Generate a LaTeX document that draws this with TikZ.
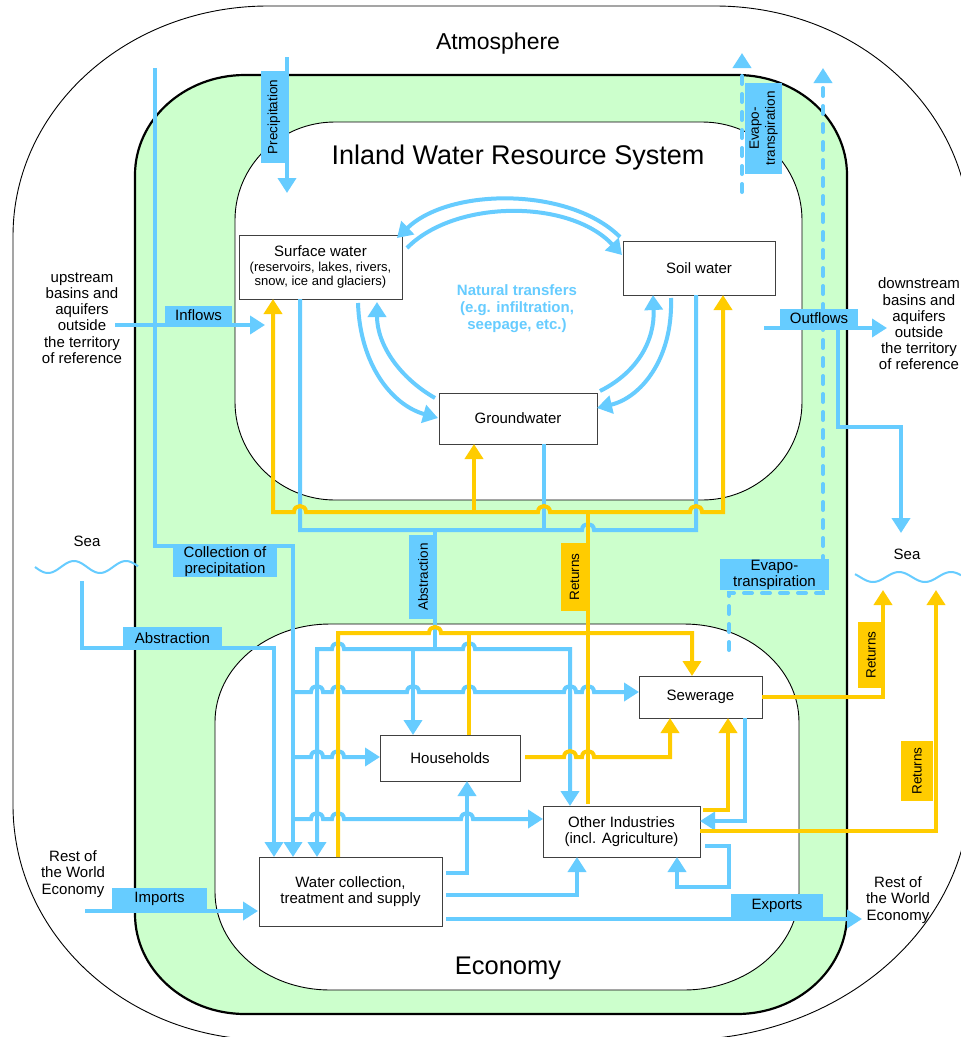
\documentclass[tikz,border=0pt]{standalone}
\usepackage{fontspec}
\setmainfont{Liberation Sans}
\usetikzlibrary{arrows.meta}
\definecolor{skyb}{HTML}{66CCFF}
\definecolor{gold}{HTML}{FFCC00}
\definecolor{mint}{HTML}{CCFFCC}
\newcommand\fs[2]{\fontsize{#1}{#2}\selectfont}
\tikzset{
  bl/.style={draw=skyb, line width=4pt},
  yl/.style={draw=gold, line width=4pt},
  arrE/.style={-{Triangle[width=18pt,length=15pt]}},
  arrB/.style={{Triangle[width=18pt,length=15pt]}-},
  arrBE/.style={{Triangle[width=18pt,length=15pt]}-{Triangle[width=18pt,length=15pt]}},
  dsh/.style={dash pattern=on 8pt off 10pt, line cap=round},
  reg/.style={draw=black, line width=0.9pt},
  nbox/.style={draw=black!75, fill=white, line width=1pt, inner sep=0pt, align=center, font=\fs{15}{16}},
  blab/.style={fill=skyb, inner sep=0pt, align=center, font=\fs{15}{16}},
  ylab/.style={fill=gold, inner sep=0pt, align=center, font=\fs{13.5}{15}},
  txt/.style={inner sep=0pt, align=center, font=\fs{15}{16.2}},
}
\begin{document}
\begin{tikzpicture}[x=1pt,y=-1pt]
\useasboundingbox (0,0) rectangle (961,1037);
% ---------- regions ----------
\draw[reg, fill=white] (268,6) -- (715,6) .. controls (856,6) and (970,109) .. (970,236) -- (970,790) .. controls (970,928) and (840,1040) .. (680,1040) -- (268,1040) .. controls (127,1040) and (13,935) .. (13,805) -- (13,236) .. controls (13,109) and (127,6) .. (268,6) -- cycle;
\draw[draw=black, line width=2.2pt, fill=mint] (245,75) -- (737,75) .. controls (797.8,75) and (847,119.8) .. (847,175) -- (847,914) .. controls (847,969.2) and (797.8,1014) .. (737,1014) -- (245,1014) .. controls (184.2,1014) and (135,969.2) .. (135,914) -- (135,175) .. controls (135,119.8) and (184.2,75) .. (245,75) -- cycle;
\draw[reg, fill=white] (335,122) -- (702,122) .. controls (757.2,122) and (802,165.9) .. (802,220) -- (802,402) .. controls (802,456.1) and (757.2,500) .. (702,500) -- (335,500) .. controls (279.8,500) and (235,456.1) .. (235,402) -- (235,220) .. controls (235,165.9) and (279.8,122) .. (335,122) -- cycle;
\draw[reg, fill=white] (330,624) -- (684,624) .. controls (747.5,624) and (799,667.9) .. (799,722) -- (799,892) .. controls (799,946.1) and (747.5,990) .. (684,990) -- (330,990) .. controls (266.5,990) and (215,946.1) .. (215,892) -- (215,722) .. controls (215,667.9) and (266.5,624) .. (330,624) -- cycle;
% region titles
\node[font=\fs{23}{26}] (atm) at (498,44) {Atmosphere};
\node[font=\fs{27}{30}] (iwrs) at (518,158) {Inland Water Resource System};
\node[font=\fs{25.5}{28}] (eco) at (508,968) {Economy};
\node[font=\bfseries\fs{15}{17}, text=skyb, align=center] (nat) at (517,309) {Natural transfers\\(e.g. infiltration,\\seepage, etc.)};
% ---------- boxes ----------
\node[nbox, minimum width=163pt, minimum height=64pt, font=\fs{13}{14}] (sw) at (320.5,267) {{\fs{15}{16}Surface water}\\[1.5pt](reservoirs, lakes, rivers,\\snow, ice and glaciers)};
\node[nbox, minimum width=152pt, minimum height=54pt] (soil) at (699,268) {Soil water};
\node[nbox, minimum width=158pt, minimum height=51pt] (gw) at (518,418.5) {Groundwater};
\node[nbox, minimum width=140pt, minimum height=46pt] (hh) at (450,758) {Households};
\node[nbox, minimum width=123pt, minimum height=42pt] (sew) at (700.5,697) {Sewerage};
\node[nbox, minimum width=157pt, minimum height=51pt] (oi) at (621.5,831.5) {Other Industries\\(incl. Agriculture)};
\node[nbox, minimum width=183pt, minimum height=69pt] (wc) at (350.5,891.5) {Water collection,\\treatment and supply};
% ---------- outside texts ----------
\node[txt] (up) at (82,318) {upstream\\basins and\\aquifers\\outside\\the territory\\of reference};
\node[txt] (down) at (919,324) {downstream\\basins and\\aquifers\\outside\\the territory\\of reference};
\node[txt] (sea1) at (87,541) {Sea};
\node[txt] (sea2) at (907,554) {Sea};
\node[txt] (row1) at (73,874) {Rest of\\the World\\Economy};
\node[txt] (row2) at (898,900) {Rest of\\the World\\Economy};
\draw[skyb, line width=2pt] plot[domain=35:138, samples=60, smooth] (\x, {567+6*sin(6.9231*(\x-35))});
\draw[skyb, line width=2pt] plot[domain=855:961, samples=60, smooth] (\x, {577+5*sin(6.9231*(\x-860))});
% ---------- natural transfers ----------
\draw[bl,arrE] (620,237) .. controls (570,187) and (450,187) .. (397,238);
\draw[bl,arrE] (407,248) .. controls (455,199) and (570,199) .. (622,255);
\draw[bl,arrE] (358,303) .. controls (360,365) and (392,405) .. (438,418);
\draw[bl,arrE] (435,398) .. controls (400,378) and (377,345) .. (377,302);
\draw[bl,arrE] (671,298) .. controls (673,360) and (640,398) .. (597,408);
\draw[bl,arrE] (600,391) .. controls (638,372) and (655,340) .. (653,295);
% ---------- blue flows ----------
\coordinate (pTop) at (287,57);
\coordinate (pEnd) at (287,193);
\draw[bl,arrE] (pTop) -- (pEnd);
\draw[bl,arrE] (115,325) -- (265,325);
\draw[bl,arrE] (764,328) -- (887,328);
\draw[bl,arrE] (838,328) -- (838,427) -- (901,427) -- (901,533);
\draw[bl,arrE] (155,68) -- (155,546) -- (293,546) -- (293,857);
\draw[bl,arrE] (82,581) -- (82,648) -- (274,648) -- (274,857);
\draw[bl] (300,299) -- (300,530) -- (582,530) .. controls (582,522) and (594,522) .. (594,530) -- (696,530) -- (696,295);
\draw[bl] (544,444) -- (544,532);
\draw[bl] (435,528) -- (435,651);
\draw[bl,arrBE] (317,857) -- (317,649) -- (332,649) .. controls (332,641) and (344,641) .. (344,649) -- (463,649) .. controls (463,641) and (475,641) .. (475,649) -- (570,649) -- (570,806);
\draw[bl,arrE] (413,647) -- (413,735);
\draw[bl,arrE] (293,692) -- (311,692) .. controls (311,684) and (323,684) .. (323,692) -- (332,692) .. controls (332,684) and (344,684) .. (344,692) -- (407,692) .. controls (407,684) and (419,684) .. (419,692) -- (463,692) .. controls (463,684) and (475,684) .. (475,692) -- (564,692) .. controls (564,684) and (576,684) .. (576,692) -- (582,692) .. controls (582,684) and (594,684) .. (594,692) -- (639,692);
\draw[bl,arrE] (293,757) -- (311,757) .. controls (311,749) and (323,749) .. (323,757) -- (332,757) .. controls (332,749) and (344,749) .. (344,757) -- (380,757);
\draw[bl,arrE] (293,819) -- (311,819) .. controls (311,811) and (323,811) .. (323,819) -- (332,819) .. controls (332,811) and (344,811) .. (344,819) -- (461,819) .. controls (461,811) and (473,811) .. (473,819) -- (543,819);
\draw[bl,arrE] (446,873) -- (467,873) -- (467,781);
\draw[bl,arrE] (446,895) -- (577,895) -- (577,857);
\draw[bl,arrE] (446,919) -- (862,919);
\draw[bl,arrE] (745,718) -- (745,821) -- (700,821);
\draw[bl,arrE] (705,846) -- (729,846) -- (729,887) -- (677,887) -- (677,857);
\draw[bl,arrE] (85,911) -- (258,911);
% dashed evapotranspiration
\draw[bl,dsh,arrE] (742,192) -- (742,53);
\draw[bl,dsh,arrE] (729,650) -- (729,593) -- (823,593) -- (823,68);
% ---------- yellow flows ----------
\draw[yl,arrBE] (273,299) -- (273,512) -- (294,512) .. controls (294,504) and (306,504) .. (306,512) -- (538,512) .. controls (538,504) and (550,504) .. (550,512) -- (690,512) .. controls (690,504) and (702,504) .. (702,512) -- (723,512) -- (723,295);
\draw[yl,arrE] (474,514) -- (474,444);
\draw[yl] (588,804) -- (588,510);
\draw[yl,arrE] (338,857) -- (338,633) -- (429,633) .. controls (429,625) and (441,625) .. (441,633) -- (692,633) -- (692,676);
\draw[yl] (469,735) -- (469,631);
\draw[yl,arrE] (525,757) -- (564,757) .. controls (564,749) and (576,749) .. (576,757) -- (582,757) .. controls (582,749) and (594,749) .. (594,757) -- (670,757) -- (670,718);
\draw[yl,arrE] (703,810) -- (728,810) -- (728,718);
\draw[yl,arrE] (762,697) -- (883,697) -- (883,590);
\draw[yl,arrE] (700,831) -- (936,831) -- (936,590);
% ---------- labels ----------
\node[blab, rotate=90, minimum width=92pt, minimum height=26pt, font=\fs{13.5}{15}] (lprec) at (274,117) {Precipitation};
\node[blab, rotate=90, minimum width=91pt, minimum height=37pt, font=\fs{13.5}{16}] (levap1) at (763.5,128.5) {Evapo-\\transpiration};
\node[blab, minimum width=67pt, minimum height=19pt] (linf) at (198.5,315.5) {Inflows};
\node[blab, minimum width=78pt, minimum height=18pt] (lout) at (819,318) {Outflows};
\node[blab, minimum width=104pt, minimum height=30pt] (lcoll) at (225,562) {Collection of\\precipitation};
\node[blab, minimum width=99pt, minimum height=22pt] (labs1) at (172.5,638) {Abstraction};
\node[blab, rotate=90, minimum width=84pt, minimum height=28pt, font=\fs{13.5}{15}] (labs2) at (423,577) {Abstraction};
\node[ylab, rotate=90, minimum width=68pt, minimum height=27pt] (lret1) at (574.5,577) {Returns};
\node[ylab, rotate=90, minimum width=66pt, minimum height=26pt] (lret2) at (871,655) {Returns};
\node[ylab, rotate=90, minimum width=60pt, minimum height=32pt] (lret3) at (917,771) {Returns};
\node[blab, minimum width=109pt, minimum height=31pt] (levap2) at (774.5,574.5) {Evapo-\\transpiration};
\node[blab, minimum width=95pt, minimum height=22pt] (limp) at (159.5,899) {Imports};
\node[blab, minimum width=92pt, minimum height=24pt] (lexp) at (777,906) {Exports};
\end{tikzpicture}
\end{document}
